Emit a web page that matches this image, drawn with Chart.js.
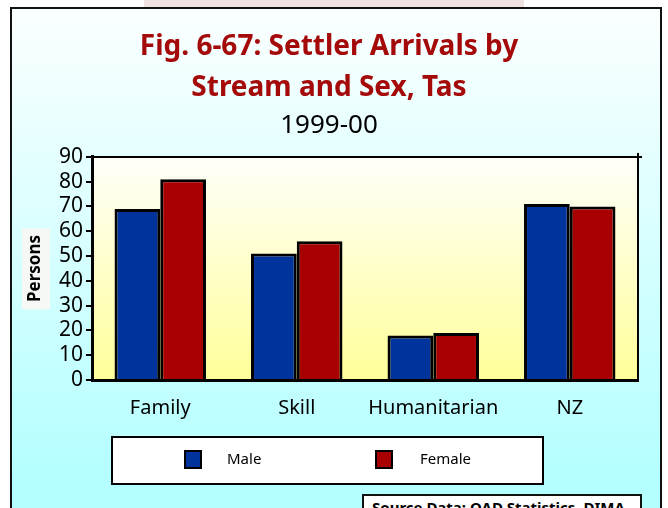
<!DOCTYPE html>
<html>
<head>
<meta charset="UTF-8">
<title>Settler Arrivals by Stream and Sex, Tas</title>
<script src="https://cdn.jsdelivr.net/npm/chart.js"></script>
<style>
    html, body { margin: 0; padding: 0; background: #fff; }
    .stage { position: relative; width: 668px; height: 508px; overflow: hidden; }
    .tab { position: absolute; left: 144px; top: 0; width: 380px; height: 8px; background: #efe4e2; }
    .frame {
        position: absolute; left: 10px; top: 7px; width: 648px; height: 530px;
        border: 2px solid #111;
        background: linear-gradient(#fbffff, #b4ffff 470px);
    }
    canvas { position: absolute; left: 0; top: 0; }
    .source {
        position: absolute; left: 362px; top: 494px; width: 280px; height: 40px;
        box-sizing: border-box; border: 2px solid #111; background: #fff;
        font: bold 15px 'Noto Sans', sans-serif; color: #000;
        padding: 1px 0 0 8px; line-height: 20px; white-space: nowrap;
    }
</style>
</head>
<body>
<div class="stage">
    <div class="tab"></div>
    <div class="frame"></div>
    <canvas id="chart" width="668" height="508"></canvas>
    <div class="source">Source Data: OAD Statistics, DIMA</div>
</div>

<script>
    // data
    const streams = ['Family', 'Skill', 'Humanitarian', 'NZ'];
    const male = [69, 51, 18, 71];
    const female = [81, 56, 19, 70];
    const seriesNames = ['Male', 'Female'];
    const titleLines = ['Fig. 6-67: Settler Arrivals by', 'Stream and Sex, Tas'];
    const subtitleText = '1999-00';
    const yTitle = 'Persons';

    const BLUE = '#00339c';
    const RED = '#a80000';
    const FONT = "'Noto Sans', sans-serif";

    // plot background, frame lines and the boxed legend
    const decor = {
        id: 'decor',
        beforeDraw(chart) {
            const ctx = chart.ctx;
            const a = chart.chartArea;
            const g = ctx.createLinearGradient(0, a.top, 0, a.bottom);
            g.addColorStop(0, '#fffffa');
            g.addColorStop(1, '#ffff99');
            ctx.save();
            ctx.fillStyle = g;
            ctx.fillRect(a.left, a.top, a.right - a.left, a.bottom - a.top);
            // pale box behind the y title
            const y = chart.scales.y;
            const cy = (a.top + a.bottom) / 2;
            ctx.fillStyle = '#f6f8f6';
            ctx.fillRect(y.left + 2, cy - 40, 28, 81);
            ctx.restore();
        },
        afterDraw(chart) {
            const ctx = chart.ctx;
            const a = chart.chartArea;
            ctx.save();
            ctx.strokeStyle = '#000';
            ctx.lineWidth = 2;
            ctx.beginPath();
            ctx.moveTo(a.left, a.top);
            ctx.lineTo(a.right + 4, a.top);
            ctx.moveTo(a.right, a.top - 4);
            ctx.lineTo(a.right, a.bottom);
            ctx.stroke();

            // legend box
            const bx = 112, by = 437, bw = 431, bh = 47;
            ctx.fillStyle = '#fff';
            ctx.fillRect(bx, by, bw, bh);
            ctx.lineWidth = 2;
            ctx.strokeRect(bx, by, bw, bh);
            const sx = [185, 376];
            const tx = [227, 420];
            ctx.font = '15px ' + FONT;
            ctx.textBaseline = 'middle';
            chart.data.datasets.forEach((ds, i) => {
                ctx.fillStyle = ds.backgroundColor;
                ctx.fillRect(sx[i], by + 14, 16, 17);
                ctx.strokeStyle = '#000';
                ctx.lineWidth = 2;
                ctx.strokeRect(sx[i], by + 14, 16, 17);
                ctx.fillStyle = '#000';
                ctx.fillText(ds.label, tx[i], by + 23);
            });
            ctx.restore();
        }
    };

    new Chart(document.getElementById('chart'), {
        type: 'bar',
        data: {
            labels: streams,
            datasets: [
                { label: seriesNames[0], data: male, backgroundColor: BLUE, borderColor: '#000', borderWidth: 3 },
                { label: seriesNames[1], data: female, backgroundColor: RED, borderColor: '#000', borderWidth: 3 }
            ]
        },
        options: {
            responsive: false,
            animation: false,
            layout: { padding: { left: 20, right: 30, top: 0, bottom: 72 } },
            datasets: { bar: { categoryPercentage: 0.67, barPercentage: 1 } },
            plugins: {
                legend: { display: false },
                tooltip: { enabled: false },
                title: {
                    display: true,
                    text: titleLines,
                    color: '#a50a0a',
                    font: { family: FONT, size: 28, weight: 'bold', lineHeight: 1.464 },
                    padding: { top: 27, bottom: 2 }
                },
                subtitle: {
                    display: true,
                    text: subtitleText,
                    color: '#000',
                    font: { family: FONT, size: 26, lineHeight: 1.15 },
                    padding: { top: 0, bottom: 16 }
                }
            },
            scales: {
                x: {
                    grid: { display: false, drawTicks: false },
                    border: { display: true, color: '#000', width: 3 },
                    ticks: { color: '#000', font: { family: FONT, size: 20 }, padding: 16, maxRotation: 0 }
                },
                y: {
                    min: 0,
                    max: 90,
                    ticks: { stepSize: 10, autoSkip: false, color: '#000', font: { family: FONT, size: 21 }, padding: 3 },
                    grid: { drawOnChartArea: false, drawTicks: true, tickLength: 6, color: '#000', lineWidth: 2 },
                    border: { display: true, color: '#000', width: 3 },
                    title: {
                        display: true,
                        text: yTitle,
                        color: '#000',
                        font: { family: FONT, size: 17, weight: 'bold' },
                        padding: { top: 5, bottom: 0 }
                    },
                    afterFit(scale) { scale.width = 72; }
                }
            }
        },
        plugins: [decor]
    });
</script>
</body>
</html>
